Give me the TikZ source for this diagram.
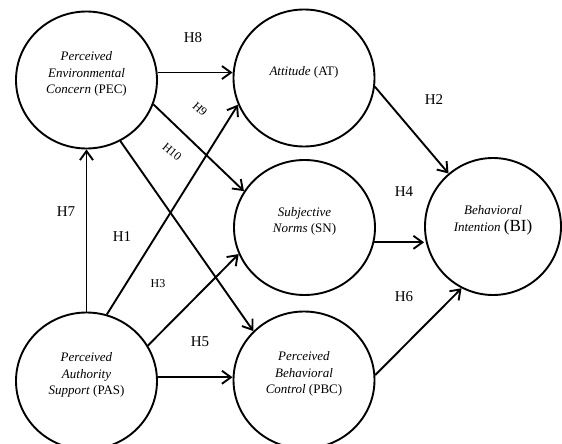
\documentclass[tikz,border=0pt]{standalone}
\usepackage{fontspec}
\setmainfont{Liberation Serif}
\usetikzlibrary{arrows.meta,shapes.geometric}

\begin{document}
\begin{tikzpicture}[x=1pt,y=-1pt,line width=1.9pt,
  construct/.style={ellipse,draw,minimum width=141pt,minimum height=137pt,inner sep=0pt},
  ctext/.style={align=center,font=\fontsize{13}{16.5}\selectfont,yshift=6pt},
  hyp/.style={-{Straight Barb[length=9pt,width=13pt]}},
  hlabel/.style={font=\fontsize{15}{15}\selectfont},
  hsmall/.style={font=\fontsize{12}{12}\selectfont,inner sep=0pt}]
  \clip (0,0) rectangle (562,444);

  \node[construct,label={[ctext]center:{\textit{Perceived}\\\textit{Environmental}\\\textit{Concern} (PEC)}}] (PEC) at (86.5,80) {};
  \node[construct,label={[ctext]center:{\textit{Perceived}\\\textit{Authority}\\\textit{Support} (PAS)}}] (PAS) at (86.5,381) {};
  \node[construct,label={[ctext]center:{\textit{Attitude} (AT)}}] (AT) at (304,78) {};
  \node[construct,minimum height=135pt,label={[ctext]center:{\textit{Subjective}\\\textit{Norms} (SN)}}] (SN) at (304.5,227.5) {};
  \node[construct,label={[ctext]center:{\textit{Perceived}\\\textit{Behavioral}\\\textit{Control} (PBC)}}] (PBC) at (304,380) {};
  \node[construct,minimum width=136pt,label={[ctext]center:{\textit{Behavioral}\\\textit{Intention} {\fontsize{17}{17}\selectfont(BI)}}}] (BI) at (493,226.5) {};

  \draw[hyp] (PEC.6) -- (PEC.6 -| AT.west); % H8
  \draw[hyp] (PEC.-20) -- (SN.149); % H9
  \draw[hyp] (PEC.-61) -- (PBC.136); % H10
  \draw[hyp] (PAS.north) -- (PEC.south); % H7
  \draw[hyp] (PAS.73) -- (AT.-158); % H1
  \draw[hyp] (PAS.30) -- (SN.-158); % H3
  \draw[hyp] (PAS.3) -- (PAS.3 -| PBC.west); % H5
  \draw[hyp] (AT.-7) -- (BI.130); % H2
  \draw[hyp] (SN.-12) -- (SN.-12 -| BI.west); % H4
  \draw[hyp] (PBC.4) -- (BI.-117); % H6

  \node[hlabel] (h8) at (193,38) {H8};
  \node[hsmall,rotate=-42] (h9) at (200,109) {H9};
  \node[hsmall,rotate=-40] (h10) at (172,152) {H10};
  \node[hlabel] (h7) at (66,212) {H7};
  \node[hlabel] (h1) at (122,237) {H1};
  \node[hsmall] (h3) at (158,284) {H3};
  \node[hlabel] (h5) at (200,342) {H5};
  \node[hlabel] (h2) at (434,100) {H2};
  \node[hlabel] (h4) at (404,192) {H4};
  \node[hlabel] (h6) at (404,297) {H6};
\end{tikzpicture}
\end{document}
